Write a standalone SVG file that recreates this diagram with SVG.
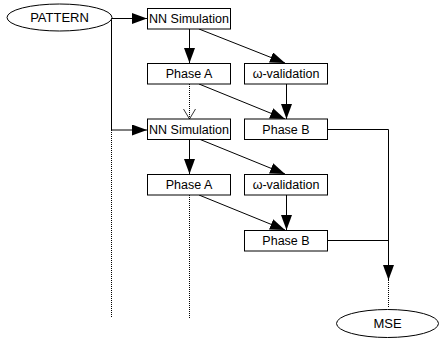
<svg xmlns="http://www.w3.org/2000/svg" width="439" height="340" viewBox="0 0 439 340">
<defs>
<style>
.box{fill:#fff;stroke:#000;stroke-width:1}
.t{font-family:"Liberation Sans",Arial,sans-serif;font-size:12.5px;text-anchor:middle;fill:#000}
.te{font-family:"Liberation Sans",Arial,sans-serif;font-size:13px;text-anchor:middle;fill:#000}
.c{fill:none;stroke:#000;stroke-width:1}
.d{fill:none;stroke:#000;stroke-width:1;stroke-dasharray:1,1}
</style>
<marker id="a" markerUnits="userSpaceOnUse" markerWidth="16" markerHeight="12" refX="15" refY="5.5" orient="auto">
<path d="M0,0 L15,5.5 L0,11 Z" fill="#000"/>
</marker>
<marker id="o" markerUnits="userSpaceOnUse" markerWidth="12" markerHeight="14" refX="10" refY="6" orient="auto">
<path d="M0,0 L10,6 L0,12" fill="none" stroke="#000" stroke-width="0.8"/>
</marker>
</defs>
<rect width="439" height="340" fill="#fff"/>
<g id="connectors">
<path class="c" d="M112,18.5 H147" marker-end="url(#a)"/>
<path class="c" d="M111.5,18.5 V130"/>
<path class="c" d="M111.5,130 H147" marker-end="url(#a)"/>
<path class="d" d="M111.5,130 V318"/>
<path class="c" d="M189.5,29 V63" marker-end="url(#a)"/>
<path class="c" d="M199,29 L285,63" marker-end="url(#a)"/>
<path class="c" d="M199,84 L285,119" marker-end="url(#a)"/>
<path class="c" d="M286.5,84 V119" marker-end="url(#a)"/>
<path class="d" d="M189.5,84 V119" marker-end="url(#o)"/>
<path class="c" d="M189.5,139 V174" marker-end="url(#a)"/>
<path class="c" d="M199,139 L285,174" marker-end="url(#a)"/>
<path class="c" d="M199,195 L285,230" marker-end="url(#a)"/>
<path class="c" d="M286.5,195 V230" marker-end="url(#a)"/>
<path class="d" d="M189.5,195 V318"/>
<path class="c" d="M328,129.5 H388.5 V280" marker-end="url(#a)"/>
<path class="c" d="M328,240.5 H388.5"/>
<path class="d" d="M388.5,280 V308"/>
</g>
<g id="pattern">
<ellipse class="box" cx="59.5" cy="17.5" rx="52.5" ry="13.5"/>
<text class="te" x="59.5" y="22">PATTERN</text>
</g>
<g id="nnsim1">
<rect class="box" x="147.5" y="8.5" width="83" height="20.5"/>
<text class="t" x="189" y="23">NN Simulation</text>
</g>
<g id="phaseA1">
<rect class="box" x="147.5" y="63.5" width="83" height="20.5"/>
<text class="t" x="189" y="78">Phase A</text>
</g>
<g id="omega1">
<rect class="box" x="244.5" y="63.5" width="83" height="20.5"/>
<text class="t" x="286" y="78">ω-validation</text>
</g>
<g id="phaseB1">
<rect class="box" x="244.5" y="119" width="83" height="20.5"/>
<text class="t" x="286" y="133.5">Phase B</text>
</g>
<g id="nnsim2">
<rect class="box" x="147.5" y="119" width="83" height="20.5"/>
<text class="t" x="189" y="133.5">NN Simulation</text>
</g>
<g id="phaseA2">
<rect class="box" x="147.5" y="174.5" width="83" height="20.5"/>
<text class="t" x="189" y="189">Phase A</text>
</g>
<g id="omega2">
<rect class="box" x="244.5" y="174.5" width="83" height="20.5"/>
<text class="t" x="286" y="189">ω-validation</text>
</g>
<g id="phaseB2">
<rect class="box" x="244.5" y="230.5" width="83" height="20.5"/>
<text class="t" x="286" y="245">Phase B</text>
</g>
<g id="mse">
<ellipse class="box" cx="387.5" cy="323.5" rx="51" ry="14"/>
<text class="te" x="387.5" y="328">MSE</text>
</g>
</svg>
